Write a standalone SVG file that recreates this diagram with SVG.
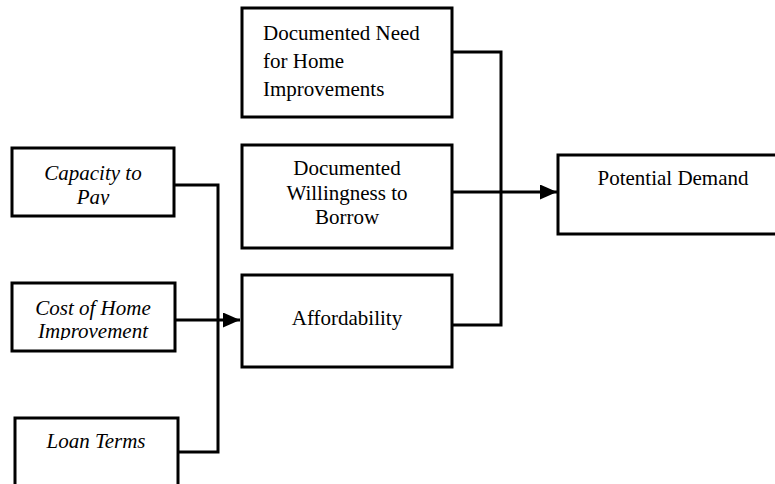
<svg xmlns="http://www.w3.org/2000/svg" width="775" height="484" viewBox="0 0 775 484">
<style>
.box{fill:#fff;stroke:#000;stroke-width:3}
.t{font-family:"Liberation Serif","Times New Roman",serif;font-size:21px;fill:#000}
.c{text-anchor:middle}
.i{font-style:italic}
.ln{fill:none;stroke:#000;stroke-width:3}
</style>
<defs>
<marker id="ah" markerWidth="17" markerHeight="15" refX="17" refY="7.5" orient="auto" markerUnits="userSpaceOnUse">
<path d="M0,0 L17,7.5 L0,15 Z" fill="#000"/>
</marker>
<clipPath id="clipCap"><rect x="12" y="148" width="162" height="57"/></clipPath>
<clipPath id="clipCost"><rect x="12" y="283" width="162" height="57"/></clipPath>
</defs>
<rect width="775" height="484" fill="#fff"/>
<g id="connectors">
<polyline class="ln" points="174,185 218,185 218,452 178,452"/>
<line class="ln" x1="175" y1="320" x2="240" y2="320" marker-end="url(#ah)"/>
<polyline class="ln" points="452,52 501,52 501,325 452,325"/>
<line class="ln" x1="452" y1="192" x2="557" y2="192" marker-end="url(#ah)"/>
</g>
<g id="need">
<rect class="box" x="242" y="8" width="210" height="109"/>
<text class="t" x="263" y="40">Documented Need</text>
<text class="t" x="263" y="68">for Home</text>
<text class="t" x="263" y="96">Improvements</text>
</g>
<g id="willingness">
<rect class="box" x="242" y="145" width="210" height="103"/>
<text class="t c" x="347" y="175">Documented</text>
<text class="t c" x="347" y="200">Willingness to</text>
<text class="t c" x="347" y="224">Borrow</text>
</g>
<g id="affordability">
<rect class="box" x="242" y="275" width="210" height="92"/>
<text class="t c" x="347" y="325">Affordability</text>
</g>
<g id="capacity">
<rect class="box" x="12" y="148" width="162" height="68"/>
<g clip-path="url(#clipCap)">
<text class="t c i" x="93" y="180">Capacity to</text>
<text class="t c i" x="93" y="204">Pay</text>
</g>
</g>
<g id="cost">
<rect class="box" x="12" y="283" width="163" height="68"/>
<g clip-path="url(#clipCost)">
<text class="t c i" x="93" y="315">Cost of Home</text>
<text class="t c i" x="93" y="338">Improvement</text>
</g>
</g>
<g id="loan">
<rect class="box" x="15" y="418" width="163" height="68"/>
<text class="t c i" x="96" y="448">Loan Terms</text>
</g>
<g id="demand">
<rect class="box" x="558" y="155" width="222" height="79"/>
<text class="t c" x="673" y="185">Potential Demand</text>
</g>
</svg>
